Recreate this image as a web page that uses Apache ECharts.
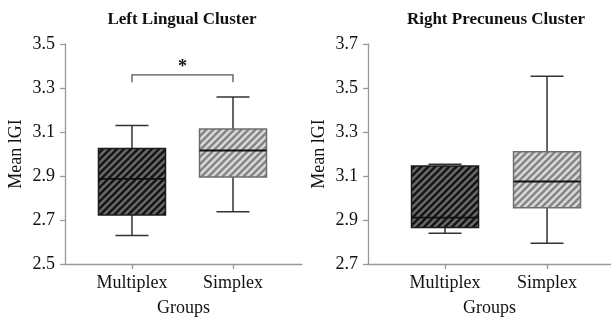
<!DOCTYPE html>
<html>
<head>
<meta charset="utf-8">
<script src="https://cdn.jsdelivr.net/npm/echarts@6/dist/echarts.min.js"></script>
<style>html,body{margin:0;padding:0;background:#fff;}#c{width:611px;height:322px;}</style>
</head>
<body>
<div id="c"></div>
<script>
// ---- data ----
const categories = ['Multiplex', 'Simplex'];
const titles = ['Left Lingual Cluster', 'Right Precuneus Cluster'];
// [min, Q1, median, Q3, max]
const leftMultiplex = [2.630, 2.723, 2.887, 3.025, 3.129];
const leftSimplex = [2.738, 2.896, 3.016, 3.114, 3.259];
const rightMultiplex = [2.840, 2.866, 2.911, 3.145, 3.153];
const rightSimplex = [2.794, 2.956, 3.075, 3.210, 3.553];
const leftTicks = [2.5, 2.7, 2.9, 3.1, 3.3, 3.5];
const rightTicks = [2.7, 2.9, 3.1, 3.3, 3.5, 3.7];
const categoryPositions = [0, 1];
// significance bracket: [fromCat, toCat, footY, barY]
const leftBracket = [0, 1, 3.326, 3.36];
const starLabel = '*';
const starY = 3.392;

const SERIF = '"Liberation Serif", "Times New Roman", serif';

function makePattern(bg, stripe) {
  const s = 7;
  const c = document.createElement('canvas');
  c.width = s; c.height = s;
  const ctx = c.getContext('2d');
  ctx.fillStyle = bg;
  ctx.fillRect(0, 0, s, s);
  ctx.strokeStyle = stripe;
  ctx.lineWidth = 2.6;
  ctx.beginPath();
  ctx.moveTo(-1, 1); ctx.lineTo(1, -1);
  ctx.moveTo(0, s); ctx.lineTo(s, 0);
  ctx.moveTo(s - 1, s + 1); ctx.lineTo(s + 1, s - 1);
  ctx.stroke();
  return { image: c, repeat: 'repeat' };
}
const darkFill = makePattern('#6a6a6a', '#151515');
const lightFill = makePattern('#dadada', '#868686');
const boxStyles = [
  { fill: darkFill, border: '#1a1a1a' },
  { fill: lightFill, border: '#6e6e6e' }
];

function boxData(a, b) {
  return [[categoryPositions[0]].concat(a), [categoryPositions[1]].concat(b)];
}

function renderBox(params, api) {
  const x = api.value(0);
  const lo = api.coord([x, api.value(1)]);
  const q1 = api.coord([x, api.value(2)]);
  const md = api.coord([x, api.value(3)]);
  const q3 = api.coord([x, api.value(4)]);
  const hi = api.coord([x, api.value(5)]);
  const cx = lo[0];
  const bw = 67, cw = 33;
  const st = boxStyles[params.dataIndex];
  const line = (x1, y1, x2, y2, color, w) => ({
    type: 'line', shape: { x1, y1, x2, y2 },
    style: { stroke: color, lineWidth: w }
  });
  return {
    type: 'group',
    children: [
      line(cx, hi[1], cx, q3[1], '#333', 1.5),
      line(cx, q1[1], cx, lo[1], '#333', 1.5),
      line(cx - cw / 2, hi[1], cx + cw / 2, hi[1], '#333', 1.5),
      line(cx - cw / 2, lo[1], cx + cw / 2, lo[1], '#333', 1.5),
      {
        type: 'rect',
        shape: { x: cx - bw / 2, y: q3[1], width: bw, height: q1[1] - q3[1] },
        style: { fill: st.fill, stroke: st.border, lineWidth: 1.5 }
      },
      line(cx - bw / 2, md[1], cx + bw / 2, md[1], '#111', 1.8)
    ]
  };
}

function renderBracket(params, api) {
  const a = api.coord([api.value(0), api.value(2)]);
  const b = api.coord([api.value(0), api.value(3)]);
  const c = api.coord([api.value(1), api.value(3)]);
  const d = api.coord([api.value(1), api.value(2)]);
  const s = api.coord([(api.value(0) + api.value(1)) / 2, starY]);
  return {
    type: 'group',
    children: [
      {
        type: 'polyline',
        shape: { points: [a, b, c, d] },
        style: { stroke: '#555', lineWidth: 1.3, fill: null }
      },
      {
        type: 'text',
        x: s[0], y: s[1],
        style: { text: starLabel, font: 'bold 18px ' + SERIF, fill: '#111', textAlign: 'center', textVerticalAlign: 'middle' }
      }
    ]
  };
}

function xAxisCfg(gridIndex, min, max) {
  return {
    type: 'value', gridIndex, min, max,
    name: 'Groups', nameLocation: 'middle', nameGap: 35,
    nameTextStyle: { fontFamily: SERIF, fontSize: 18, color: '#111' },
    axisLine: { show: true, onZero: false, lineStyle: { color: '#999', width: 1.3 } },
    axisTick: { show: true, length: 5, customValues: categoryPositions, lineStyle: { color: '#999', width: 1.3 } },
    axisLabel: {
      customValues: categoryPositions, margin: 10,
      fontFamily: SERIF, fontSize: 18, color: '#111',
      formatter: v => categories[Math.round(v)]
    },
    splitLine: { show: false }
  };
}
function yAxisCfg(gridIndex, ticks) {
  return {
    type: 'value', gridIndex, min: ticks[0], max: ticks[ticks.length - 1],
    name: 'Mean lGI', nameLocation: 'middle', nameGap: 40,
    nameTextStyle: { fontFamily: SERIF, fontSize: 18, color: '#111' },
    axisLine: { show: true, onZero: false, lineStyle: { color: '#999', width: 1.3 } },
    axisTick: { show: true, length: 5, customValues: ticks, lineStyle: { color: '#999', width: 1.3 } },
    axisLabel: {
      customValues: ticks, margin: 10,
      fontFamily: SERIF, fontSize: 18, color: '#111',
      formatter: v => v.toFixed(1)
    },
    splitLine: { show: false }
  };
}

const chart = echarts.init(document.getElementById('c'), null, { renderer: 'canvas' });
chart.setOption({
  animation: false,
  backgroundColor: '#fff',
  grid: [
    { left: 65, top: 44, width: 237, height: 223 },
    { left: 368, top: 44, width: 243, height: 223 }
  ],
  xAxis: [xAxisCfg(0, -0.663, 1.683), xAxisCfg(1, -0.755, 1.627)],
  yAxis: [yAxisCfg(0, leftTicks), yAxisCfg(1, rightTicks)],
  graphic: [
    { type: 'text', x: 182, y: 20, style: { text: titles[0], font: 'bold 17px ' + SERIF, fill: '#111', textAlign: 'center', textVerticalAlign: 'middle' } },
    { type: 'text', x: 496, y: 20, style: { text: titles[1], font: 'bold 17px ' + SERIF, fill: '#111', textAlign: 'center', textVerticalAlign: 'middle' } }
  ],
  series: [
    { type: 'custom', xAxisIndex: 0, yAxisIndex: 0, renderItem: renderBox, encode: { x: 0, y: [1, 2, 3, 4, 5] }, data: boxData(leftMultiplex, leftSimplex), clip: false },
    { type: 'custom', xAxisIndex: 1, yAxisIndex: 1, renderItem: renderBox, encode: { x: 0, y: [1, 2, 3, 4, 5] }, data: boxData(rightMultiplex, rightSimplex), clip: false },
    { type: 'custom', xAxisIndex: 0, yAxisIndex: 0, renderItem: renderBracket, encode: { x: [0, 1], y: [2, 3] }, data: [leftBracket], clip: false }
  ]
});
</script>
</body>
</html>
